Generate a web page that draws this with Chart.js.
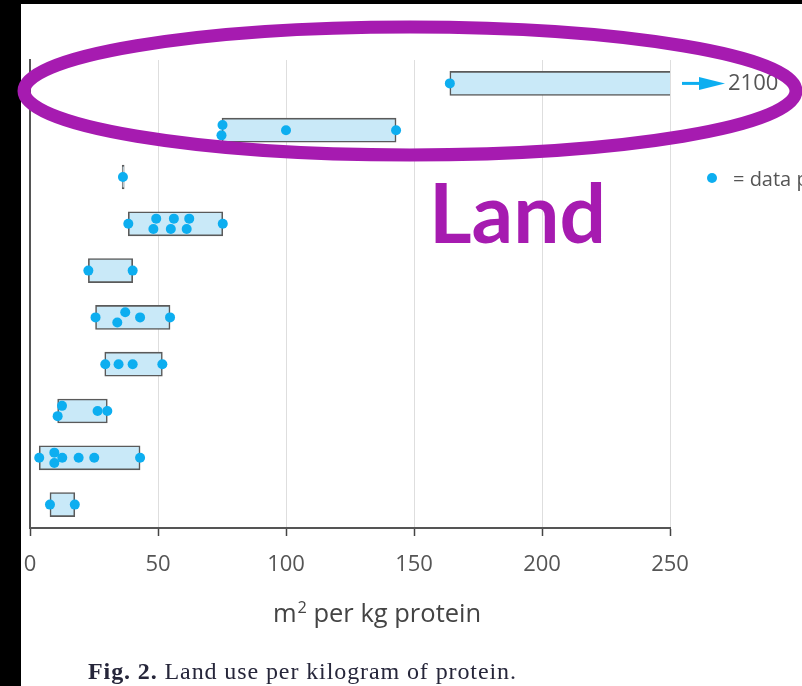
<!DOCTYPE html>
<html>
<head>
<meta charset="utf-8">
<script src="https://cdn.jsdelivr.net/npm/chart.js@4/dist/chart.umd.min.js"></script>
<style>
  html, body { margin: 0; padding: 0; }
  body { width: 802px; height: 686px; background: #000; position: relative; overflow: hidden; }
  #sheet { position: absolute; left: 21px; top: 4px; right: 0; bottom: 0; background: #fff; }
  #plot { position: absolute; left: 0; top: 0; width: 802px; height: 686px; }
  #word { position: absolute; left: 429px; top: 171px; font: bold 82px Lato, sans-serif; line-height: 80px; color: #a61bb0; white-space: nowrap; }
  #key { position: absolute; left: 707px; top: 166px; height: 24px; display: flex; align-items: center; white-space: nowrap;
         font: 20px "Open Sans", sans-serif; color: #555; }
  #key i { display: inline-block; width: 10px; height: 10px; border-radius: 50%; background: #0daef0; margin-right: 16px; }
  #axisTitle { position: absolute; left: 377px; top: 597px; transform: translateX(-50%); font: 25.5px "Open Sans", sans-serif;
               line-height: 30px; color: #444; white-space: nowrap; }
  #axisTitle sup { font-size: 0.64em; line-height: 0; vertical-align: 0.55em; margin-left: 1px; }
  #caption { position: absolute; left: 88px; top: 659px; font: 24px "Liberation Serif", serif; letter-spacing: 0.9px;
             line-height: 24px; color: #26263a; white-space: nowrap; }
</style>
</head>
<body>
<div id="sheet"></div>
<canvas id="plot" width="802" height="686"></canvas>
<div id="word">Land</div>
<div id="key"><i></i>= data points</div>
<div id="axisTitle">m<sup>2</sup> per kg protein</div>
<div id="caption"><b>Fig. 2.</b> Land use per kilogram of protein.</div>
<script>
// Rows from top to bottom (the row labels are not drawn)
const rows = [1, 2, 3, 4, 5, 6, 7, 8, 9, 10];
// Range of each row, m² per kg protein
const rangeLow  = [164, 75, 36, 38.4, 22.8, 25.6, 29.2, 10.8, 3.6, 7.8];
const rangeHigh = [2100, 143, 36, 75.3, 40.1, 54.7, 51.7, 30.2, 43, 17.5];
// Individual data points in each row
const rowPoints = [
  [164],
  [74.8, 75.2, 100, 143],
  [36.3],
  [38.4, 48.2, 49.3, 55, 56.2, 61.2, 62.2, 75.3],
  [22.8, 40.1],
  [25.6, 34.1, 37.2, 43, 54.7],
  [29.4, 34.6, 40.1, 51.7],
  [10.8, 12.5, 26.4, 30.2],
  [3.6, 9.5, 9.5, 12.6, 19, 25.1, 43],
  [7.8, 17.5]
];
// x axis tick values
const xTicks = [0, 50, 100, 150, 200, 250];

const DOT = '#0daef0';
const PAIR_GAP = 3.5;   // points closer than this are nudged apart vertically
const NUDGE = 0.11;     // in row units

// Neighbouring points are split into pairs: lower one first, upper one second
function spreadRow(values, row) {
  const sorted = values.slice().sort((a, b) => a - b);
  const out = [];
  let prevFree = null;
  sorted.forEach(v => {
    if (prevFree !== null && v - prevFree.x < PAIR_GAP) {
      prevFree.y = row + NUDGE;
      out.push({ x: v, y: row - NUDGE });
      prevFree = null;
    } else {
      const p = { x: v, y: row };
      out.push(p);
      prevFree = p;
    }
  });
  return out;
}
const pointData = rows.flatMap((r, i) => spreadRow(rowPoints[i], r));
const barData = rows.map((r, i) => ({ x: [rangeLow[i], rangeHigh[i]], y: r }));

// Arrow and value for ranges running past the axis end
const overflowMarker = {
  id: 'overflowMarker',
  afterDatasetsDraw(chart) {
    const xs = chart.scales.x, ys = chart.scales.y;
    const ctx = chart.ctx;
    rows.forEach((r, i) => {
      if (rangeHigh[i] <= xs.max) return;
      const y = ys.getPixelForValue(r);
      const x0 = xs.right + 12;
      ctx.save();
      ctx.strokeStyle = DOT;
      ctx.fillStyle = DOT;
      ctx.lineWidth = 3;
      ctx.beginPath();
      ctx.moveTo(x0, y);
      ctx.lineTo(x0 + 22, y);
      ctx.stroke();
      ctx.beginPath();
      ctx.moveTo(x0 + 17, y - 6.5);
      ctx.lineTo(x0 + 43, y);
      ctx.lineTo(x0 + 17, y + 6.5);
      ctx.closePath();
      ctx.fill();
      ctx.fillStyle = '#555';
      ctx.font = '22px "Open Sans", sans-serif';
      ctx.textBaseline = 'middle';
      ctx.fillText(String(rangeHigh[i]), x0 + 46, y);
      ctx.restore();
    });
  }
};

// Highlight ring round the top two rows
const highlightRing = {
  id: 'highlightRing',
  afterDraw(chart) {
    const ctx = chart.ctx;
    ctx.save();
    ctx.strokeStyle = '#a61bb0';
    ctx.lineWidth = 13;
    ctx.beginPath();
    ctx.ellipse(410, 91, 386, 64, 0, 0, Math.PI * 2);
    ctx.stroke();
    ctx.restore();
  }
};

new Chart(document.getElementById('plot'), {
  data: {
    datasets: [
      {
        type: 'scatter',
        data: pointData,
        backgroundColor: DOT,
        borderWidth: 0,
        pointRadius: 5,
        pointHoverRadius: 5,
        order: 0
      },
      {
        type: 'bar',
        indexAxis: 'y',
        data: barData,
        backgroundColor: '#c9e9f8',
        borderColor: '#5a5a5a',
        borderWidth: 1.6,
        borderSkipped: false,
        barThickness: 24,
        minBarLength: 2,
        order: 1
      }
    ]
  },
  options: {
    responsive: false,
    animation: false,
    events: [],
    layout: { padding: { left: 30, right: 132, top: 60, bottom: 48 } },
    plugins: { legend: { display: false }, tooltip: { enabled: false } },
    scales: {
      x: {
        type: 'linear',
        min: 0,
        max: 250,
        afterBuildTicks: s => { s.ticks = xTicks.map(v => ({ value: v })); },
        afterFit: s => { s.height = 110; },
        grid: { color: '#dedede', lineWidth: 1, tickColor: '#444', tickLength: 8, tickWidth: 1.5 },
        border: { color: '#555', width: 2 },
        ticks: { color: '#555', padding: 16, font: { family: '"Open Sans", sans-serif', size: 22 } },
        title: { display: false }
      },
      y: {
        type: 'linear',
        min: 0.5,
        max: 10.5,
        reverse: true,
        offset: false,
        grid: { display: false, drawTicks: false },
        border: { display: true, color: '#555', width: 2 },
        ticks: { display: false }
      }
    }
  },
  plugins: [overflowMarker, highlightRing]
});
</script>
</body>
</html>
